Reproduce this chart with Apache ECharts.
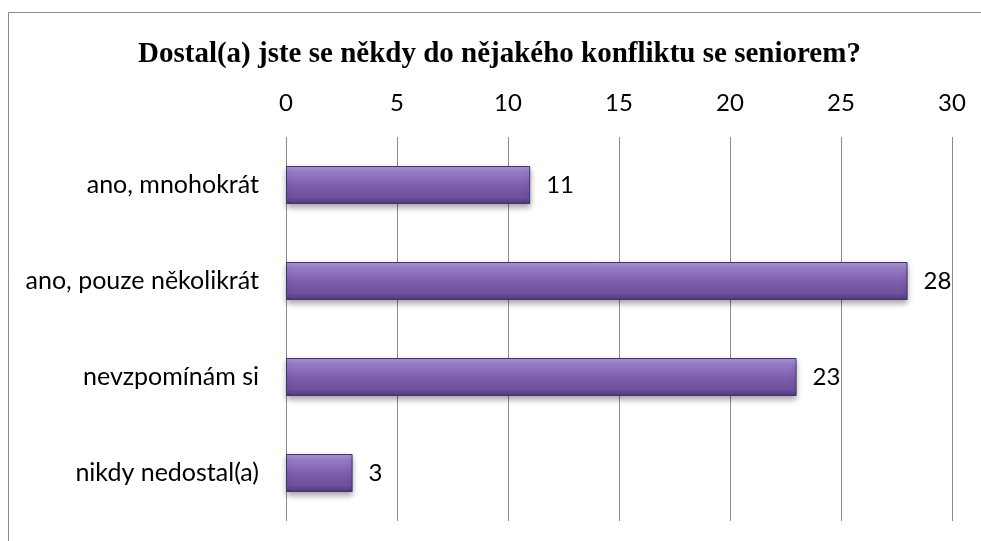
<!DOCTYPE html>
<html>
<head>
<meta charset="utf-8">
<script src="https://cdn.jsdelivr.net/npm/echarts@6/dist/echarts.min.js"></script>
<style>
  html, body { margin: 0; padding: 0; background: #fff; }
  #chart { width: 981px; height: 541px; }
</style>
</head>
<body>
<div id="chart"></div>
<script>
// categories top to bottom
const categories = ["ano, mnohokrát", "ano, pouze několikrát", "nevzpomínám si", "nikdy nedostal(a)"];
const values = [11, 28, 23, 3];
const titleText = "Dostal(a) jste se někdy do nějakého konfliktu se seniorem?";

const chart = echarts.init(document.getElementById("chart"));

const option = {
  animation: false,
  title: {
    text: titleText,
    left: 133,
    top: 35,
    textStyle: {
      fontFamily: "Liberation Serif",
      fontWeight: "bold",
      fontSize: 29,
      color: "#000",
    },
  },
  graphic: [
    {
      type: "rect",
      shape: { x: 8.5, y: 12.5, width: 1000, height: 600 },
      style: { fill: "none", stroke: "#8c8c8c", lineWidth: 1 },
      silent: true,
    },
  ],
  grid: {
    left: 286,
    right: 29,
    top: 137,
    bottom: 20,
  },
  xAxis: {
    type: "value",
    position: "top",
    min: 0,
    max: 30,
    interval: 5,
    axisLine: { show: false },
    axisTick: { show: false },
    axisLabel: {
      fontFamily: "Lato",
      fontSize: 24,
      color: "#000",
      margin: 22,
    },
    splitLine: { lineStyle: { color: "#8c8c8c", width: 1 } },
  },
  yAxis: {
    type: "category",
    inverse: true,
    data: categories,
    axisLine: { show: false },
    axisTick: { show: false },
    axisLabel: {
      fontFamily: "Lato",
      fontSize: 25,
      color: "#000",
      margin: 27,
    },
  },
  series: [
    {
      type: "bar",
      data: values,
      barWidth: 38,
      itemStyle: {
        color: new echarts.graphic.LinearGradient(0, 0, 0, 1, [
          { offset: 0, color: "#b29ade" },
          { offset: 0.18, color: "#977bc8" },
          { offset: 0.5, color: "#7d5fae" },
          { offset: 0.85, color: "#6b4f9c" },
          { offset: 1, color: "#4f3878" },
        ]),
        borderColor: "#45306a",
        borderWidth: 1,
        shadowColor: "rgba(0,0,0,0.35)",
        shadowBlur: 6,
        shadowOffsetY: 3,
      },
      label: {
        show: true,
        position: "right",
        distance: 16,
        fontFamily: "Lato",
        fontSize: 24,
        color: "#000",
      },
    },
  ],
};

chart.setOption(option);
</script>
</body>
</html>
